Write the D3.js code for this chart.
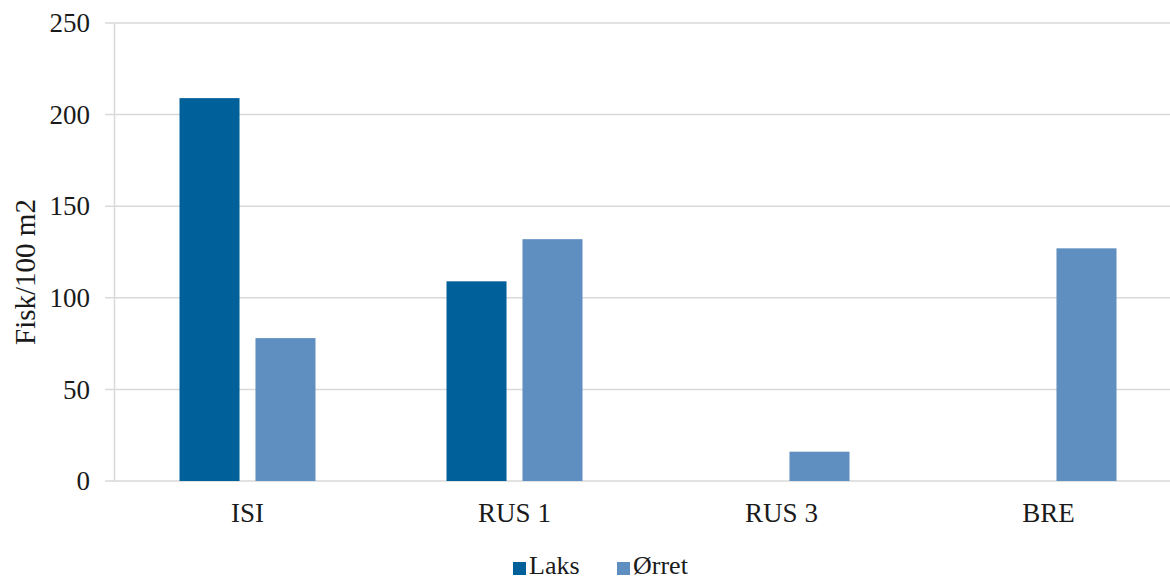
<!DOCTYPE html>
<html><head><meta charset="utf-8">
<script src="https://cdn.jsdelivr.net/npm/d3@7"></script>
<style>
body{margin:0;background:#fff;}
svg{display:block;}
</style></head>
<body>
<svg id="c" width="1170" height="580"></svg>
<script>
const categories = ["ISI", "RUS 1", "RUS 3", "BRE"];
const seriesNames = ["Laks", "Ørret"];
const laks = [209, 109, 0, 0];
const orret = [78, 132, 16, 127];
const yTicks = [0, 50, 100, 150, 200, 250];
const colors = ["#00609a", "#5e8fc0"];

const svg = d3.select("#c");
const m = {left:114, right:1182, top:23, bottom:481, gridEnd:1170};
const serif = "'Liberation Serif', 'DejaVu Serif', serif";
const txt = "#1a1a1a";

const x = d3.scaleBand().domain(categories).range([m.left, m.right]);
const y = d3.scaleLinear().domain([0, 250]).range([m.bottom, m.top]);
const inner = d3.scaleBand().domain(seriesNames).range([0, 136]).paddingInner(0.21);

// gridlines + outside tick marks
svg.append("g").selectAll("line").data(yTicks).join("line")
  .attr("x1", m.left - 9).attr("x2", m.gridEnd)
  .attr("y1", d => y(d)).attr("y2", d => y(d))
  .attr("stroke", "#d9d9d9").attr("stroke-width", 1.5);

// y axis
const ga = svg.append("g").attr("transform", `translate(${m.left},0)`)
  .call(d3.axisLeft(y).tickValues(yTicks).tickSize(0).tickPadding(24).tickFormat(d3.format("d")));
ga.select(".domain").attr("stroke", "#d9d9d9").attr("stroke-width", 1.5);
ga.selectAll("text").attr("font-family", serif).attr("font-size", 27).attr("fill", txt);

// bars
const data = categories.map((c, i) => ({cat: c, vals: [laks[i], orret[i]]}));
const g = svg.append("g");
data.forEach(d => {
  const gx0 = x(d.cat) + x.bandwidth() / 2 - 68;
  d.vals.forEach((v, j) => {
    if (v <= 0) return;
    g.append("rect")
      .attr("x", gx0 + inner(seriesNames[j]))
      .attr("y", y(v))
      .attr("width", inner.bandwidth())
      .attr("height", y(0) - y(v))
      .attr("fill", colors[j]);
  });
});

// x labels
const gx = svg.append("g").attr("transform", `translate(0,${m.bottom})`)
  .call(d3.axisBottom(x).tickSize(0));
gx.select(".domain").remove();
gx.selectAll("text").attr("y", 41).attr("dy", 0)
  .attr("font-family", serif).attr("font-size", 27).attr("fill", txt);

// y title
svg.append("text").attr("transform", `translate(35,272) rotate(-90)`)
  .attr("text-anchor", "middle").attr("font-family", serif).attr("font-size", 29).attr("fill", txt)
  .text("Fisk/100 m2");

// legend
const legX = [513, 617];
seriesNames.forEach((s, i) => {
  svg.append("rect").attr("x", legX[i]).attr("y", 562).attr("width", 13).attr("height", 13).attr("fill", colors[i]);
  svg.append("text").attr("x", legX[i] + 16).attr("y", 574)
    .attr("font-family", serif).attr("font-size", 26).attr("fill", txt)
    .text(s);
});
</script>
</body></html>
